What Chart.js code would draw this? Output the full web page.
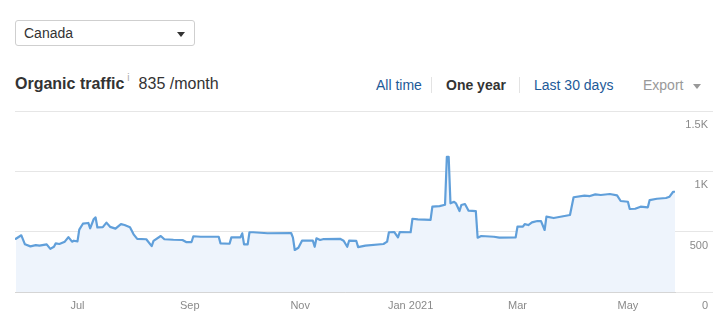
<!DOCTYPE html>
<html>
<head>
<meta charset="utf-8">
<script src="https://cdn.jsdelivr.net/npm/chart.js@4/dist/chart.umd.min.js"></script>
<style>
  html, body { margin: 0; padding: 0; background: #fff; width: 713px; height: 329px; overflow: hidden; font-family: "Liberation Sans", Arial, sans-serif; }
  .sel { position: absolute; left: 15px; top: 20px; width: 178px; height: 24px; border: 1px solid #cfcfcf; border-radius: 3px; box-sizing: content-box; }
  .sel span { position: absolute; left: 8px; top: 4px; font-size: 14px; color: #333; }
  .sel i { position: absolute; right: 9px; top: 11px; width: 0; height: 0; border-left: 4px solid transparent; border-right: 4px solid transparent; border-top: 5px solid #333; }
  .title { position: absolute; left: 15px; top: 74px; font-size: 16px; color: #333; white-space: nowrap; }
  .title b { font-weight: bold; }
  .title sup { font-size: 10px; color: #aaa; position: relative; top: -2px; margin-left: 3px; margin-right: 9px; }
  .nav { position: absolute; top: 77px; font-size: 14px; white-space: nowrap; }
  .blue { color: #1d5a98; }
  .sep { position: absolute; top: 77px; width: 1px; height: 16px; background: #e3e3e3; }
  #wrap { position: absolute; left: 0; top: 100px; width: 713px; height: 229px; }
</style>
</head>
<body>
<div class="sel"><span>Canada</span><i></i></div>
<div class="title"><b>Organic traffic</b><sup>i</sup>835 /month</div>
<div class="nav blue" style="left:376px">All time</div>
<div class="sep" style="left:431px"></div>
<div class="nav" style="left:446px;color:#333;font-weight:bold">One year</div>
<div class="sep" style="left:519px"></div>
<div class="nav blue" style="left:534px">Last 30 days</div>
<div class="nav" style="left:643px;color:#999">Export</div>
<div style="position:absolute;left:693px;top:84px;width:0;height:0;border-left:4px solid transparent;border-right:4px solid transparent;border-top:5px solid #999"></div>
<div id="wrap"><canvas id="c"></canvas></div>
<script>
// Day index (0 = 28 May 2020) and organic traffic
const days = [0,3,5,8,11,13,17,19,21,22,24,27,29,31,32,34,35,37,40,41,43,44,45,48,50,52,55,58,60,63,65,67,72,75,76,80,82,87,92,94,97,98,102,112,113,118,119,124,125,126,128,129,131,139,152,153,154,156,158,164,165,166,168,170,179,181,183,184,188,189,193,203,205,206,209,211,212,218,219,222,229,230,234,237,238,239,240,242,243,245,246,248,250,254,255,257,264,267,276,277,280,281,283,285,288,290,292,293,297,306,308,314,317,320,323,328,332,334,338,339,342,345,349,350,354,359,361,363,364];
const traffic = [441,470,395,378,389,384,395,357,375,403,398,417,455,417,425,420,517,566,572,528,605,618,535,538,575,540,525,563,555,536,478,440,437,380,423,464,437,433,431,414,414,462,458,458,403,400,453,453,486,395,395,495,495,487,489,450,348,367,425,425,375,445,431,439,441,425,375,425,423,372,384,398,417,495,497,453,497,495,607,602,597,707,712,723,1121,1121,735,748,735,671,721,729,674,671,450,464,458,450,453,541,541,563,555,577,588,588,514,624,613,638,785,798,795,809,804,812,801,754,748,688,690,707,702,762,773,779,790,831,831];
const tickDays = [34,96,157,218,277,338];
const tickLabels = ["Jul","Sep","Nov","Jan 2021","Mar","May"];
const yTicks = [0,500,1000,1500];
const yTickLabels = ["0","500","1K","1.5K"];

Chart.defaults.font.family = '"Liberation Sans", Arial, sans-serif';
Chart.defaults.font.size = 11;
Chart.defaults.color = '#8a8a8a';

new Chart(document.getElementById('c'), {
  type: 'line',
  data: {
    datasets: [{
      data: days.map((d, i) => ({ x: d, y: traffic[i] })),
      borderColor: '#609fda',
      backgroundColor: '#eef4fc',
      borderWidth: 2.2,
      fill: 'origin',
      pointRadius: 0,
      tension: 0,
      borderJoinStyle: 'round',
      borderCapStyle: 'round'
    }]
  },
  options: {
    responsive: true,
    maintainAspectRatio: false,
    devicePixelRatio: 1,
    animation: false,
    layout: { padding: { top: 11, left: 15, right: 0, bottom: 0 } },
    plugins: { legend: { display: false }, tooltip: { enabled: false } },
    scales: {
      x: {
        type: 'linear',
        min: -0.5,
        max: 364,
        afterBuildTicks: s => { s.ticks = tickDays.map(v => ({ value: v })); },
        afterFit: s => { s.height = 37; s.paddingLeft = 0; s.paddingRight = 0; },
        grid: { drawOnChartArea: false, drawTicks: true, tickLength: -6, color: '#d8d8d8' },
        border: { color: '#d5d5d5' },
        ticks: {
          autoSkip: false, maxRotation: 0, padding: 13,
          callback: v => { const i = tickDays.indexOf(v); return i >= 0 ? tickLabels[i] : ''; }
        }
      },
      y: {
        position: 'right',
        min: 0,
        max: 1500,
        afterBuildTicks: s => { s.ticks = yTicks.map(v => ({ value: v })); },
        afterFit: s => { s.width = 38; s.paddingTop = 0; s.paddingBottom = 0; },
        grid: { color: '#e6e6e6', drawTicks: true, tickLength: 38 },
        border: { display: false },
        ticks: {
          mirror: true, padding: 33, labelOffset: 14,
          callback: v => { const i = yTicks.indexOf(v); return i >= 0 ? yTickLabels[i] : ''; }
        }
      }
    }
  }
});
</script>
</body>
</html>
